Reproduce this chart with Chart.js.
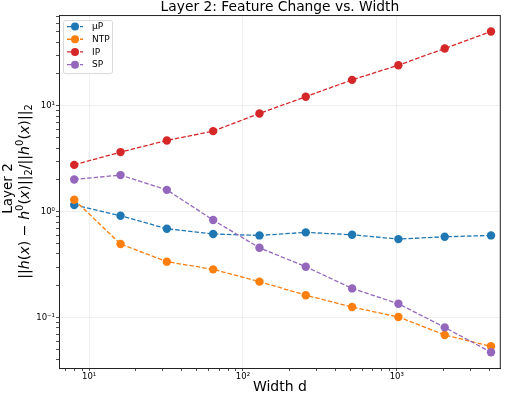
<!DOCTYPE html>
<html>
<head>
<meta charset="utf-8">
<script src="https://cdn.jsdelivr.net/npm/chart.js@4.4.0/dist/chart.umd.min.js"></script>
<style>
  html, body { margin: 0; padding: 0; background: #fff; overflow: hidden; }
  #wrap { width: 505px; height: 396px; }
</style>
</head>
<body>
<div id="wrap"><canvas id="chart"></canvas></div>
<script>
// widths and measured feature change per parametrization
const widths = [8, 16, 32, 64, 128, 256, 512, 1024, 2048, 4096];
const muP = [1.16, 0.917, 0.691, 0.616, 0.598, 0.639, 0.607, 0.552, 0.581, 0.598];
const ntp = [1.30, 0.496, 0.338, 0.286, 0.219, 0.163, 0.126, 0.1016, 0.0687, 0.0537];
const ip = [2.77, 3.66, 4.71, 5.77, 8.48, 12.2, 17.6, 24.2, 34.8, 50.3];
const sp = [2.02, 2.22, 1.61, 0.835, 0.457, 0.303, 0.189, 0.1355, 0.081, 0.0472];

const seriesNames = ["µP", "NTP", "IP", "SP"];
const seriesColors = ["#1f77b4", "#ff7f0e", "#d62728", "#9467bd"];
const seriesValues = [muP, ntp, ip, sp];

const X_MIN = 6.37, X_MAX = 4742;
const Y_MIN = 0.0335, Y_MAX = 72;
const FONT = "'DejaVu Sans', sans-serif";

const SUP = { "-": "⁻", "0": "⁰", "1": "¹", "2": "²", "3": "³", "4": "⁴", "5": "⁵", "6": "⁶", "7": "⁷", "8": "⁸", "9": "⁹" };

// y label: plain first line, math second line as [text, style] pieces
const yLabelTop = "Layer 2";
const yLabelMath = [
  ["||", "n"], ["h", "i"], ["(", "n"], ["x", "i"], [")", "n"], [" − ", "n"],
  ["h", "i"], ["0", "sup"], ["(", "n"], ["x", "i"], [")", "n"], ["||", "n"], ["2", "sub"],
  ["/", "n"], ["||", "n"], ["h", "i"], ["0", "sup"], ["(", "n"], ["x", "i"], [")", "n"],
  ["||", "n"], ["2", "sub"],
];

function isMajor(v) {
  const e = Math.log10(v);
  return Math.abs(e - Math.round(e)) < 1e-6;
}
function isRegular(v) {
  const m = v / Math.pow(10, Math.floor(Math.log10(v) + 1e-9));
  return Math.abs(m - Math.round(m)) < 1e-6;
}
function powLabel(v) {
  if (!isMajor(v)) return "";
  return "10" + String(Math.round(Math.log10(v))).split("").map((c) => SUP[c]).join("");
}

const datasets = seriesNames.map((name, i) => ({
  label: name,
  data: widths.map((w, j) => ({ x: w, y: seriesValues[i][j] })),
  borderColor: seriesColors[i],
  backgroundColor: seriesColors[i],
  pointBackgroundColor: seriesColors[i],
  pointBorderWidth: 0,
  pointRadius: 4.2,
  borderWidth: 1.3,
  borderDash: [4.5, 2],
  tension: 0,
  order: 4 - i,
}));

function axisOptions(min, max, fitFn) {
  return {
    type: "logarithmic",
    min: min,
    max: max,
    afterFit: fitFn,
    border: { display: true, color: "#222", width: 1 },
    grid: {
      drawOnChartArea: true,
      color: (ctx) => (ctx.tick && isMajor(ctx.tick.value) ? "rgba(0,0,0,0.08)" : "rgba(0,0,0,0)"),
      tickColor: (ctx) => (ctx.tick && isRegular(ctx.tick.value) ? "#222" : "rgba(0,0,0,0)"),
      tickLength: 3,
      lineWidth: 0.8,
    },
    ticks: {
      autoSkip: false,
      maxRotation: 0,
      padding: 1,
      color: "#000",
      font: { family: FONT, size: 8.5 },
      callback: (value) => powLabel(value),
    },
  };
}

const xAxis = axisOptions(X_MIN, X_MAX, (s) => { s.height = 28; });
xAxis.title = { display: true, text: "Width d", color: "#000", font: { family: FONT, size: 14 }, padding: 0 };

const yAxis = axisOptions(Y_MIN, Y_MAX, (s) => { s.width = 59; });

// plot frame on all four sides like matplotlib
const framePlugin = {
  id: "frame",
  afterDatasetsDraw(chart) {
    const a = chart.chartArea, ctx = chart.ctx;
    ctx.save();
    ctx.strokeStyle = "#222";
    ctx.lineWidth = 1;
    ctx.strokeRect(a.left + 0.5, a.top + 0.5, a.right - a.left - 1, a.bottom - a.top);
    ctx.restore();
  },
};

// rotated two-line y label with italic math pieces
const yTitlePlugin = {
  id: "yTitle",
  afterDraw(chart) {
    const ctx = chart.ctx, a = chart.chartArea;
    const size = 13.5, mathSize = 14.2;
    const cy = (a.top + a.bottom) / 2;
    const fontFor = (st) => {
      if (st === "i") return "italic " + mathSize + "px " + FONT;
      if (st === "sup" || st === "sub") return mathSize * 0.7 + "px " + FONT;
      return mathSize + "px " + FONT;
    };
    ctx.save();
    ctx.fillStyle = "#000";
    ctx.textBaseline = "alphabetic";
    // first line
    ctx.save();
    ctx.translate(11.8, cy - 3);
    ctx.rotate(-Math.PI / 2);
    ctx.font = size + "px " + FONT;
    ctx.textAlign = "center";
    ctx.fillText(yLabelTop, 0, 0);
    ctx.restore();
    // second line
    let total = 0;
    yLabelMath.forEach(([t, st]) => { ctx.font = fontFor(st); total += ctx.measureText(t).width; });
    ctx.save();
    ctx.translate(29, cy);
    ctx.rotate(-Math.PI / 2);
    ctx.textAlign = "left";
    let x = -total / 2;
    yLabelMath.forEach(([t, st]) => {
      ctx.font = fontFor(st);
      const dy = st === "sup" ? -mathSize * 0.42 : st === "sub" ? mathSize * 0.2 : 0;
      ctx.fillText(t, x, dy);
      x += ctx.measureText(t).width;
    });
    ctx.restore();
    ctx.restore();
  },
};

// legend boxed in the upper left of the plot
const legendPlugin = {
  id: "mplLegend",
  afterDraw(chart) {
    const ctx = chart.ctx, a = chart.chartArea;
    const x0 = a.left + 4, y0 = a.top + 5, w = 49, rowH = 12.7, h = 53;
    ctx.save();
    ctx.fillStyle = "rgba(255,255,255,0.85)";
    ctx.strokeStyle = "#d0d0d0";
    ctx.lineWidth = 0.8;
    ctx.beginPath();
    ctx.roundRect(x0 + 0.5, y0 + 0.5, w, h, 2);
    ctx.fill();
    ctx.stroke();
    ctx.font = "9px " + FONT;
    ctx.textBaseline = "middle";
    chart.data.datasets.forEach((ds, i) => {
      const cy = y0 + 6.5 + i * rowH;
      ctx.strokeStyle = ds.borderColor;
      ctx.lineWidth = 1.3;
      ctx.setLineDash([4.5, 2]);
      ctx.beginPath();
      ctx.moveTo(x0 + 4, cy);
      ctx.lineTo(x0 + 20, cy);
      ctx.stroke();
      ctx.setLineDash([]);
      ctx.fillStyle = ds.borderColor;
      ctx.beginPath();
      ctx.arc(x0 + 12, cy, 4, 0, Math.PI * 2);
      ctx.fill();
      ctx.fillStyle = "#000";
      ctx.fillText(ds.label, x0 + 29, cy + 0.5);
    });
    ctx.restore();
  },
};

new Chart(document.getElementById("chart"), {
  type: "line",
  data: { datasets: datasets },
  options: {
    responsive: true,
    maintainAspectRatio: false,
    animation: false,
    layout: { padding: { left: 0, right: 2, top: 0, bottom: 0 } },
    plugins: {
      legend: { display: false },
      tooltip: { enabled: false },
      title: {
        display: true,
        fullSize: false,
        text: "Layer 2: Feature Change vs. Width",
        color: "#000",
        font: { family: FONT, size: 13.8, weight: "normal", lineHeight: 1.09 },
        padding: { top: 0, bottom: 0 },
      },
    },
    scales: { x: xAxis, y: yAxis },
  },
  plugins: [framePlugin, yTitlePlugin, legendPlugin],
});
</script>
</body>
</html>
